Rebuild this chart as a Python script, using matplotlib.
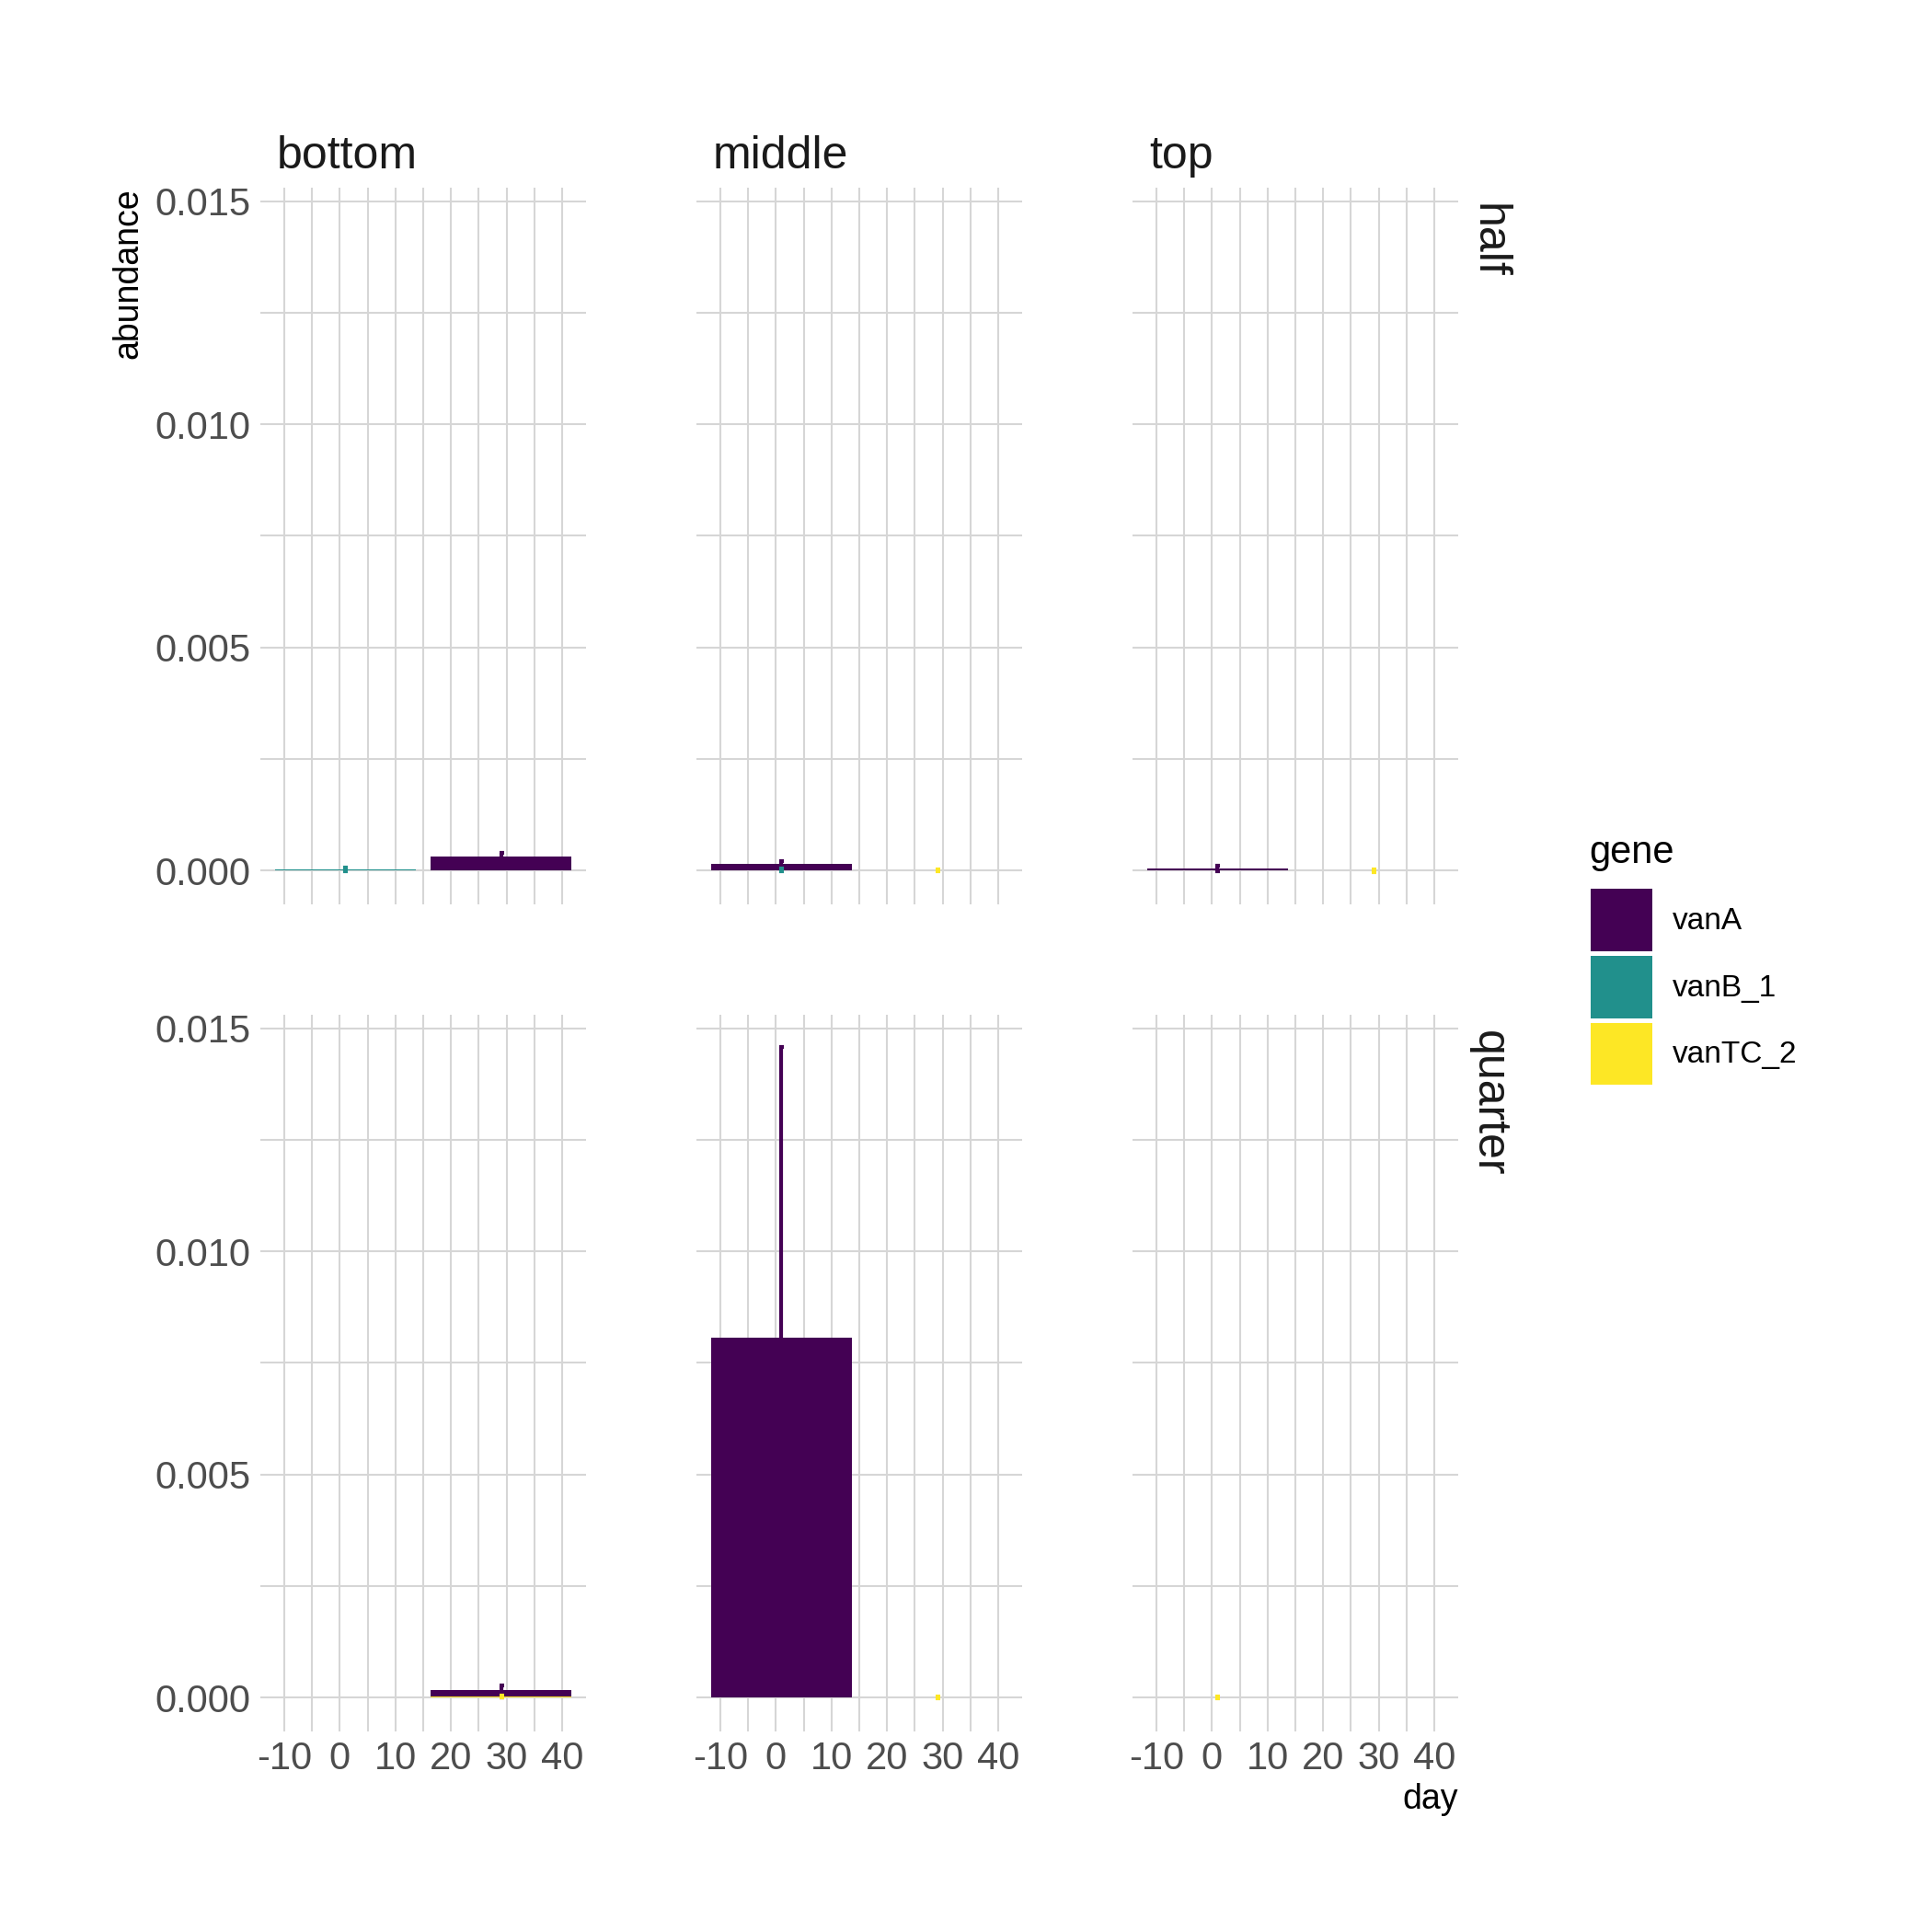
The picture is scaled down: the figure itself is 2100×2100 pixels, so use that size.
import numpy as np
import matplotlib
matplotlib.use("Agg")
import matplotlib.pyplot as plt
from matplotlib.patches import Patch
from matplotlib.ticker import MultipleLocator

plt.rcParams["font.family"] = ["Liberation Sans", "DejaVu Sans"]
plt.rcParams["axes.unicode_minus"] = False

days = [1, 29]
positions = ["bottom", "middle", "top"]
depths = ["half", "quarter"]
genes = ["vanA", "vanB_1", "vanTC_2"]
colors = ["#440154", "#21908C", "#FDE725"]

# mean abundance per position (bottom, middle, top), per gene, per day (1, 29)
mean_half = [
  [[0, 0.00032], [0.00002, 0], [0, 0]],
  [[0.00015, 0], [0.00001, 0], [0, 0.00001]],
  [[0.00005, 0], [0, 0], [0, 0.000005]],
]
sd_half = [
  [[0, 0.00007], [0.00004, 0], [0, 0]],
  [[0.00007, 0], [0.00003, 0], [0, 0.00002]],
  [[0.00006, 0], [0, 0], [0, 0.00003]],
]
mean_quarter = [
  [[0, 0.00014], [0, 0], [0, 0.00003]],
  [[0.00807, 0], [0, 0.000008], [0, 0.000005]],
  [[0, 0], [0, 0], [0.00001, 0]],
]
sd_quarter = [
  [[0, 0.00013], [0, 0], [0, 0.00002]],
  [[0.0065, 0], [0, 0], [0, 0.00002]],
  [[0, 0], [0, 0], [0.00002, 0]],
]

means = [mean_half, mean_quarter]
sds = [sd_half, sd_quarter]

width = 0.9*(days[1]-days[0])
grid_col = "#D6D6D6"

# shared scales, ggplot style 5% expansion
xlo, xhi = min(days)-width/2, max(days)+width/2
xpad = 0.05*(xhi-xlo)
tops, lows = [], []
for m, s in zip(means, sds):
  m = np.array(m); s = np.array(s)
  tops.append(m.sum(axis=1).max()); tops.append((m+s).max())
  lows.append((m-s).min())
ylo, yhi = min(0, min(lows)), max(tops)
ypad = 0.05*(yhi-ylo)

W = 2100
col_left = [283, 757, 1231]
row_top = [204, 1103]
pw, ph = 354, 779

fig = plt.figure(figsize=(7, 7), dpi=300)

for r in range(2):
  for c in range(3):
    ax = fig.add_axes([col_left[c]/W, 1-(row_top[r]+ph)/W, pw/W, ph/W])
    m = np.array(means[r][c]); s = np.array(sds[r][c])
    bottom = np.zeros(len(days))
    for g in reversed(range(len(genes))):
      ax.bar(days, m[g], width=width, bottom=bottom, color=colors[g], linewidth=0, zorder=2)
      bottom = bottom+m[g]
    for g in range(len(genes)):
      for d in range(len(days)):
        if s[g][d] > 0:
          ax.errorbar(days[d], m[g][d], yerr=s[g][d], color=colors[g], elinewidth=1.0,
                      capsize=0.6, capthick=1.0, zorder=3)
    ax.set_xlim(xlo-xpad, xhi+xpad)
    ax.set_ylim(ylo-ypad, yhi+ypad)
    ax.xaxis.set_major_locator(MultipleLocator(10))
    ax.xaxis.set_minor_locator(MultipleLocator(5))
    ax.yaxis.set_major_locator(MultipleLocator(0.005))
    ax.yaxis.set_minor_locator(MultipleLocator(0.0025))
    ax.grid(which="both", color=grid_col, linewidth=0.5, zorder=0)
    ax.set_axisbelow(True)
    for sp in ax.spines.values():
      sp.set_visible(False)
    ax.tick_params(which="both", length=0, labelsize=10, labelcolor="#4D4D4D", pad=2.5)
    ax.yaxis.set_major_formatter(plt.FuncFormatter(lambda v, p: "%.3f" % v))
    if c > 0:
      ax.tick_params(labelleft=False)
    if r == 0:
      ax.tick_params(labelbottom=False)
      ax.text(18/pw, 1+(row_top[0]-183)/ph, positions[c], transform=ax.transAxes,
              fontsize=12, color="#1A1A1A", ha="left", va="baseline")
    if c == 2:
      ax.text(1+33/pw, 1-17/ph, depths[r], transform=ax.transAxes, rotation=-90,
              fontsize=12, color="#1A1A1A", ha="center", va="top")

fig.text(139/W, 1-204/W, "abundance", rotation=90, fontsize=9, ha="center", va="top")
fig.text(1585/W, 1-1956/W, "day", fontsize=9, ha="right", va="center")

fig.text(1727/W, 1-927/W, "gene", fontsize=10, ha="left", va="center")
handles = [Patch(facecolor=col, edgecolor="none") for col in colors]
leg = fig.legend(handles, genes, loc="upper left",
                 bbox_to_anchor=(1729/W, 1-966/W), frameon=False, fontsize=8,
                 handlelength=2.0, handleheight=2.75,
                 labelspacing=0.15, handletextpad=0.66, borderpad=0, borderaxespad=0)

fig.savefig("out.png", dpi=300, facecolor="white")
